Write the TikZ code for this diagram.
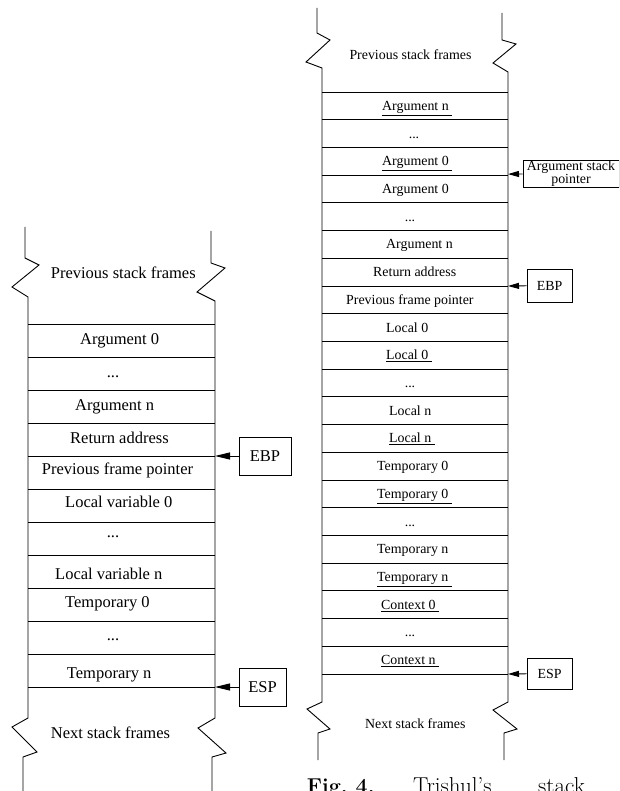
\documentclass[tikz,border=0pt]{standalone}
\usepackage{fontspec}
\usetikzlibrary{arrows.meta}
\newfontfamily\tnr{Liberation Serif}
\newcommand\ulx[1]{\underline{#1\ }}
\begin{document}
\begin{tikzpicture}[x=1pt,y=-1pt,
  stk/.style={line width=0.9pt},
  ltxt/.style={font=\tnr\fontsize{16.5}{19}\selectfont, anchor=base west, inner sep=0pt},
  ldots/.style={font=\tnr\fontsize{16.5}{19}\selectfont, anchor=base, inner sep=0pt},
  rtxt/.style={font=\tnr\fontsize{13.9}{13}\selectfont, anchor=base west, inner sep=0pt},
  rdots/.style={font=\tnr\fontsize{13.9}{13}\selectfont, anchor=base, inner sep=0pt},
  lbox/.style={draw, line width=0.9pt, inner sep=0pt, font=\tnr\fontsize{16.5}{19}\selectfont},
  rbox/.style={draw, line width=0.9pt, inner sep=0pt, font=\tnr\fontsize{13.9}{12.5}\selectfont, align=center},
  lptr/.style={line width=0.9pt, -{Triangle[length=15pt,width=7pt]}},
  rptr/.style={line width=0.9pt, -{Triangle[length=11pt,width=6pt]}},
  captxt/.style={font=\fontsize{23}{26}\selectfont, anchor=base west, inner sep=0pt}]
\useasboundingbox (0,0) rectangle (619,791);
\clip (0,0) rectangle (619,791);
% ---------------- left stack ----------------
\draw[stk] (25,227) -- (25,258) -- (39,265) -- (12,287) -- (28,297) -- (28,718)
  -- (12,727) -- (37,752) -- (23,757) -- (23,795);
\draw[stk] (211,231) -- (211,263) -- (225,268) -- (197,292) -- (215,301) -- (215,718)
  -- (198,728) -- (226,753) -- (212,757) -- (212,795);
\foreach \k in {0,...,11} \draw[stk] (28,324+33*\k) -- (215,324+33*\k);
\node[ltxt] (lprev) at (50.7,278.3) {Previous stack frames};
\node[ltxt] (la0) at (80,344) {Argument 0};
\node[ldots] (ld1) at (113,377) {...};
\node[ltxt] (lan) at (75,410) {Argument n};
\node[ltxt] (lra) at (70,443) {Return address};
\node[ltxt] (lpfp) at (41.7,474) {Previous frame pointer};
\node[ltxt] (llv0) at (65,507) {Local variable 0};
\node[ldots] (ld2) at (113,537) {...};
\node[ltxt] (llvn) at (55,579) {Local variable n};
\node[ltxt] (lt0) at (65,607) {Temporary 0};
\node[ldots] (ld3) at (113,640) {...};
\node[ltxt] (ltn) at (66.7,678) {Temporary n};
\node[ltxt] (lnext) at (50.7,738) {Next stack frames};
\coordinate (lebpt) at (215,456);
\coordinate (lespt) at (215,687);
\node[lbox, minimum width=52pt, minimum height=38pt] (lebp) at (265,456) {EBP};
\node[lbox, minimum width=47pt, minimum height=38pt] (lesp) at (262.5,687) {ESP};
\draw[lptr] (lebp) -- (lebpt);
\draw[lptr] (lesp) -- (lespt);
% ---------------- right stack ----------------
\draw[stk] (317,8) -- (317,33) -- (330,40) -- (306,62) -- (322,68) -- (322,702)
  -- (307,709) -- (330,729) -- (318,733) -- (318,760);
\draw[stk] (502,13) -- (502,40) -- (516,44) -- (493,63) -- (508,72) -- (508,702)
  -- (493,710) -- (517,729) -- (504,733) -- (504,760);
\foreach \k in {0,...,21} \draw[stk] (322,92+27.714*\k) -- (508,92+27.714*\k);
\node[rtxt] (rprev) at (349.3,60) {Previous stack frames};
\node[rtxt] (r1) at (382,110.36) {\ulx{Argument n}};
\node[rdots] (r2) at (414,138.07) {...};
\node[rtxt] (r3) at (382,165.79) {\ulx{Argument 0}};
\node[rtxt] (r4) at (382,193.50) {Argument 0};
\node[rdots] (r5) at (410,221.21) {...};
\node[rtxt] (r6) at (386,248.93) {Argument n};
\node[rtxt] (r7) at (373,276.64) {Return address};
\node[rtxt] (r8) at (346,304.36) {Previous frame pointer};
\node[rtxt] (r9) at (386,332.07) {Local 0};
\node[rtxt] (r10) at (386,359.79) {\ulx{Local 0}};
\node[rdots] (r11) at (410,387.50) {...};
\node[rtxt] (r12) at (389,415.21) {Local n};
\node[rtxt] (r13) at (389,442.93) {\ulx{Local n}};
\node[rtxt] (r14) at (377,470.64) {Temporary 0};
\node[rtxt] (r15) at (377,498.36) {\ulx{Temporary 0}};
\node[rdots] (r16) at (410,526.07) {...};
\node[rtxt] (r17) at (377,553.79) {Temporary n};
\node[rtxt] (r18) at (377,581.50) {\ulx{Temporary n}};
\node[rtxt] (r19) at (381,609.21) {\ulx{Context 0}};
\node[rdots] (r20) at (410,636.93) {...};
\node[rtxt] (r21) at (381,664.64) {\ulx{Context n}};
\node[rtxt] (rnext) at (365,728) {Next stack frames};
\coordinate (raspt) at (508,174.1);
\coordinate (rebpt) at (508,286);
\coordinate (respt) at (508,674);
\node[rbox, minimum width=96pt, minimum height=27pt] (rasp) at (571,173.5) {Argument stack\\pointer};
\node[rbox, minimum width=45pt, minimum height=33pt] (rebp) at (549.5,285.5) {EBP};
\node[rbox, minimum width=45pt, minimum height=31pt] (resp) at (549.5,673.5) {ESP};
\draw[rptr] (rasp) -- (raspt);
\draw[rptr] (rebp) -- (rebpt);
\draw[rptr] (resp) -- (respt);
% ---------------- caption ----------------
\node[captxt, font=\fontsize{21.5}{26}\selectfont] (cfig) at (306.7,793.2) {\bfseries Fig.~4.};
\node[captxt] (ctri) at (413,793.7) {Trishul's};
\node[captxt] (cstk) at (538,793.7) {stack};
\end{tikzpicture}
\end{document}
